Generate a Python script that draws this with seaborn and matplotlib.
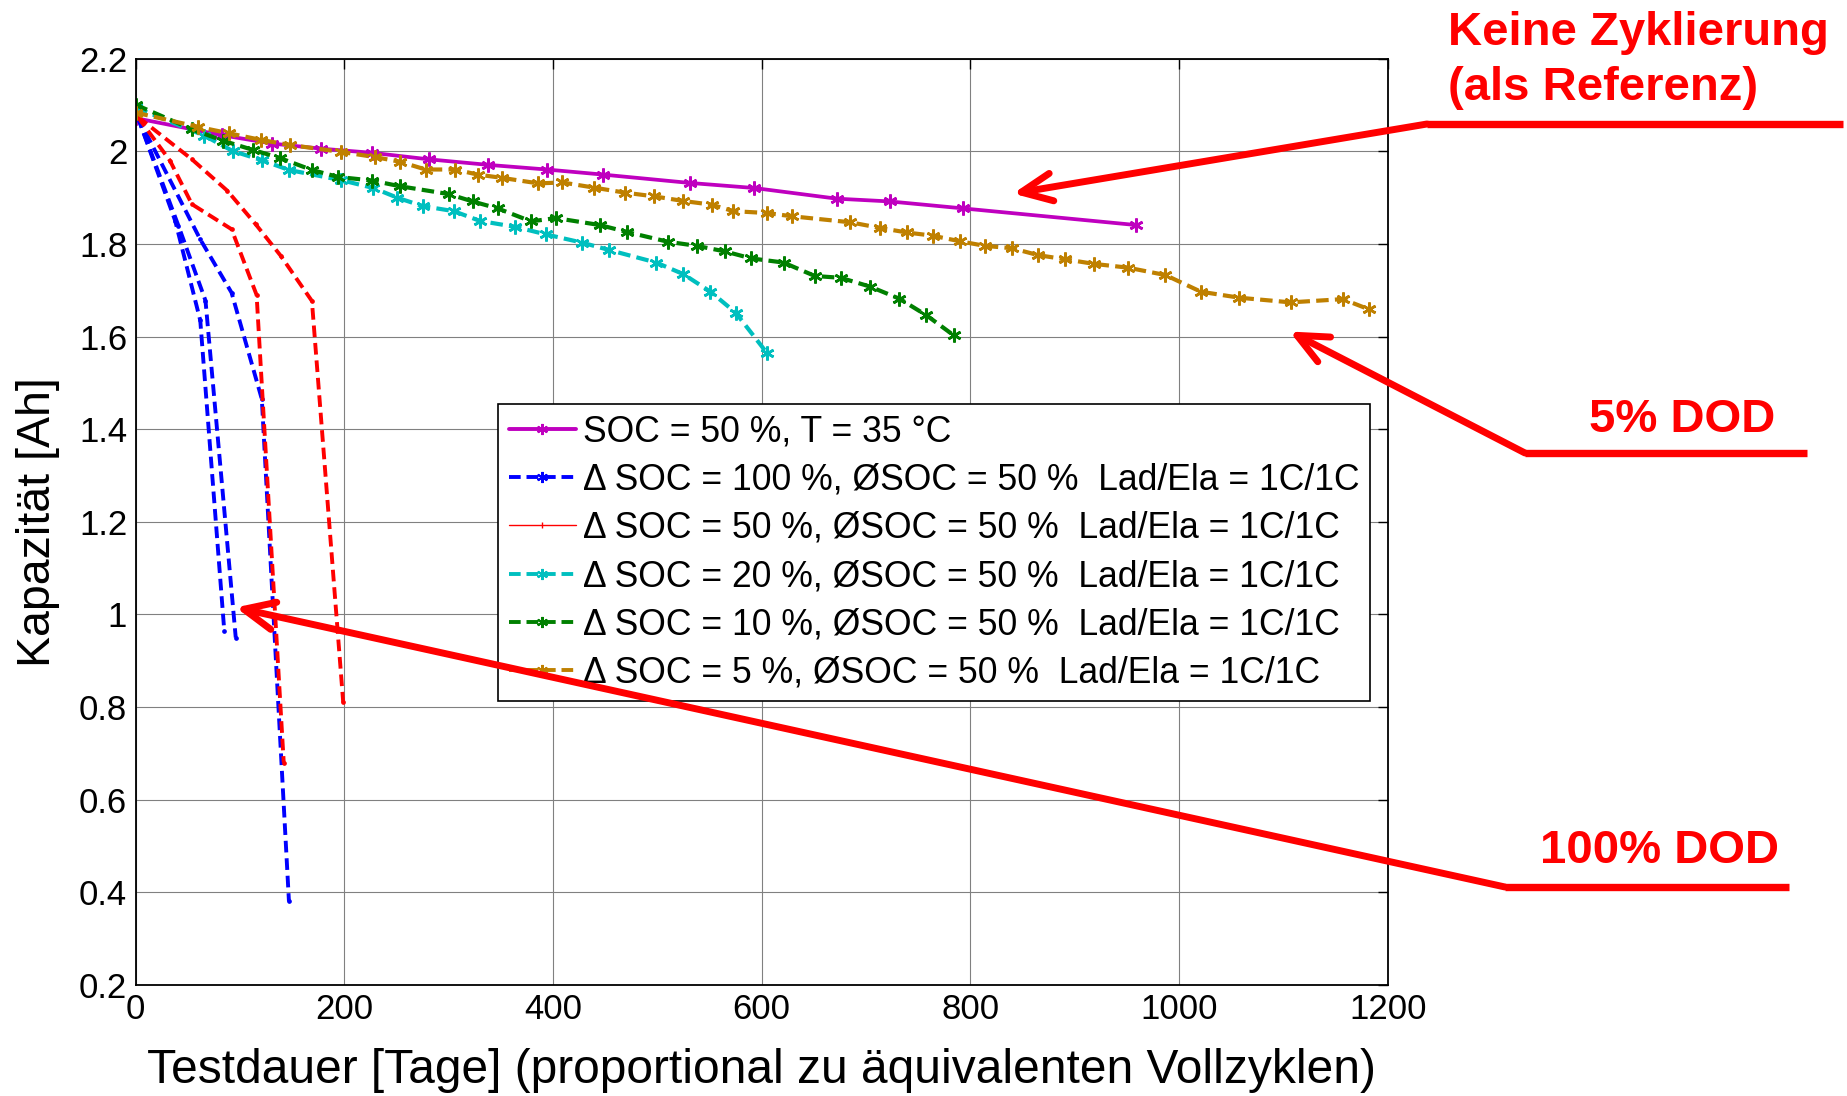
"""
Kapazitätsverlauf bei verschiedenen DOD-Stufen
"""
import matplotlib
matplotlib.use('Agg')
import matplotlib.pyplot as plt
from matplotlib.lines import Line2D
import seaborn as sns


sns.set_style("whitegrid")
plt.rcParams['font.family'] = ['Liberation Sans', 'DejaVu Sans']
plt.rcParams['text.color'] = 'black'
plt.rcParams['axes.labelcolor'] = 'black'

# SOC = 50 %, T = 35 °C (keine Zyklierung)
ref_days = [0, 83, 131, 178, 227, 281, 338, 394, 448, 531, 593, 672, 723, 793, 959]
ref_cap = [2.072, 2.035, 2.017, 2.006, 1.997, 1.983, 1.971, 1.961, 1.950, 1.932,
           1.921, 1.898, 1.892, 1.877, 1.841]

# 100 % DOD (drei Zellen)
dod100_a_days = [2, 38, 62, 85]
dod100_a_cap = [2.075, 1.85, 1.635, 0.965]
dod100_b_days = [2, 41, 67, 96]
dod100_b_cap = [2.075, 1.84, 1.678, 0.95]
dod100_c_days = [2, 62, 92, 121, 147]
dod100_c_cap = [2.075, 1.81, 1.695, 1.465, 0.38]

# 50 % DOD (zwei Zellen)
dod50_a_days = [2, 33, 54, 92, 116, 142]
dod50_a_cap = [2.075, 1.98, 1.886, 1.832, 1.69, 0.68]
dod50_b_days = [2, 54, 88, 115, 139, 169, 199]
dod50_b_cap = [2.075, 1.983, 1.915, 1.843, 1.775, 1.677, 0.81]

# 20 % DOD
dod20_days = [0, 66, 93, 121, 147, 197, 228, 251, 275, 305, 330, 364, 393, 428,
              454, 499, 525, 551, 575, 605]
dod20_cap = [2.095, 2.034, 2.001, 1.981, 1.960, 1.938, 1.921, 1.900, 1.882, 1.871,
             1.850, 1.837, 1.821, 1.803, 1.787, 1.760, 1.735, 1.697, 1.652, 1.565]

# 10 % DOD
dod10_days = [0, 54, 84, 113, 138, 169, 194, 227, 253, 300, 323, 347, 379, 403,
              445, 471, 510, 538, 565, 590, 621, 651, 676, 704, 732, 758, 784]
dod10_cap = [2.101, 2.048, 2.023, 2.003, 1.986, 1.960, 1.945, 1.937, 1.925, 1.908,
             1.892, 1.877, 1.849, 1.856, 1.841, 1.826, 1.805, 1.796, 1.784, 1.769,
             1.760, 1.731, 1.727, 1.708, 1.682, 1.646, 1.603]

# 5 % DOD
dod5_days = [0, 60, 90, 120, 148, 197, 229, 253, 278, 306, 328, 351, 386, 409, 439,
             469, 497, 525, 552, 573, 605, 629, 685, 713, 739, 764, 790, 814, 840,
             865, 891, 919, 951, 987, 1021, 1058, 1107, 1157, 1182]
dod5_cap = [2.084, 2.053, 2.039, 2.025, 2.014, 1.999, 1.988, 1.978, 1.961, 1.961,
            1.950, 1.943, 1.931, 1.933, 1.922, 1.911, 1.903, 1.893, 1.885, 1.871,
            1.867, 1.860, 1.847, 1.835, 1.825, 1.818, 1.806, 1.796, 1.791, 1.776,
            1.767, 1.757, 1.749, 1.733, 1.697, 1.684, 1.674, 1.681, 1.659]

legend_labels = [
    'SOC = 50 %, T = 35 °C',
    '\u0394 SOC = 100 %, \u00d8SOC = 50 %  Lad/Ela = 1C/1C',
    '\u0394 SOC = 50 %, \u00d8SOC = 50 %  Lad/Ela = 1C/1C',
    '\u0394 SOC = 20 %, \u00d8SOC = 50 %  Lad/Ela = 1C/1C',
    '\u0394 SOC = 10 %, \u00d8SOC = 50 %  Lad/Ela = 1C/1C',
    '\u0394 SOC = 5 %, \u00d8SOC = 50 %  Lad/Ela = 1C/1C',
]

PURPLE = '#BF00BF'
BLUE = '#0000FF'
RED = '#FF0000'
CYAN = '#00BFBF'
GREEN = '#008000'
GOLD = '#BF8000'

ASTERISK = (6, 2, 0)
DASH = (0, (3.0, 1.5))

W, H = 1847, 1096


def fx(px):
    return px / W


def fy(py):
    return 1 - py / H


fig = plt.figure(figsize=(W / 100, H / 100), dpi=100)
ax = fig.add_axes([0.0734, 0.1015, 0.6779, 0.8448])


def draw(days, cap, color, ls, marker, ms, lw):
    sns.lineplot(x=days, y=cap, ax=ax, color=color, linestyle=ls, linewidth=lw,
                 marker=marker, markersize=ms, markeredgecolor=color,
                 markeredgewidth=1.9, sort=False, estimator=None, legend=False)


draw(ref_days, ref_cap, PURPLE, '-', ASTERISK, 10, 2.7)
for d, c in [(dod100_a_days, dod100_a_cap), (dod100_b_days, dod100_b_cap),
             (dod100_c_days, dod100_c_cap)]:
    draw(d, c, BLUE, DASH, '.', 3, 2.8)
for d, c in [(dod50_a_days, dod50_a_cap), (dod50_b_days, dod50_b_cap)]:
    draw(d, c, RED, DASH, '.', 3, 2.8)
draw(dod20_days, dod20_cap, CYAN, DASH, ASTERISK, 10, 3.0)
draw(dod10_days, dod10_cap, GREEN, DASH, ASTERISK, 10, 3.0)
draw(dod5_days, dod5_cap, GOLD, DASH, ASTERISK, 10, 3.0)

ax.set_xlim(0, 1200)
ax.set_ylim(0.2, 2.2)
ax.set_xticks(range(0, 1201, 200))
ax.set_yticks([0.2, 0.4, 0.6, 0.8, 1, 1.2, 1.4, 1.6, 1.8, 2, 2.2])
ax.set_yticklabels(['0.2', '0.4', '0.6', '0.8', '1', '1.2', '1.4', '1.6', '1.8', '2', '2.2'])
ax.grid(True, color='0.5', linewidth=0.8, linestyle='-')
ax.set_facecolor('white')
for s in ax.spines.values():
    s.set_color('black')
    s.set_linewidth(1.3)
ax.tick_params(direction='in', length=7, width=1, top=True, right=True,
               labelsize=25, colors='black', pad=6)
ax.set_xlabel('Testdauer [Tage] (proportional zu äquivalenten Vollzyklen)',
              fontsize=34.5, labelpad=16, color='black')
ax.set_ylabel('Kapazität [Ah]', fontsize=33.5, labelpad=14, color='black')

handles = [
    Line2D([], [], color=PURPLE, lw=2.8, marker=ASTERISK, ms=8, mew=1.5),
    Line2D([], [], color=BLUE, lw=2.8, ls=DASH, marker=ASTERISK, ms=8, mew=1.5),
    Line2D([], [], color=RED, lw=1.0, marker='|', ms=5),
    Line2D([], [], color=CYAN, lw=2.8, ls=DASH, marker=ASTERISK, ms=8, mew=1.5),
    Line2D([], [], color=GREEN, lw=2.8, ls=DASH, marker=ASTERISK, ms=8, mew=1.5),
    Line2D([], [], color=GOLD, lw=2.8, ls=DASH, marker=ASTERISK, ms=8, mew=1.5),
]
leg = ax.legend(handles=handles, labels=legend_labels, loc='upper left',
                bbox_to_anchor=(0.2895, 0.6273), borderaxespad=0, fontsize=25.6,
                frameon=True, fancybox=False, framealpha=1, edgecolor='black',
                handlelength=1.9, handletextpad=0.18, labelspacing=0.37,
                borderpad=0.3)
leg.get_frame().set_linewidth(1.2)
for t in leg.get_texts():
    t.set_color('black')

# Annotationen (rote Pfeile)
arrow_kw = dict(arrowstyle='->,head_length=2.2,head_width=1.0', color=RED, lw=5,
                shrinkA=0, shrinkB=0, mutation_scale=10)
notes = [
    ((841, 1.909), (1427, 124), 1843),
    ((1106, 1.611), (1525, 453), 1807),
    ((96, 1.015), (1505, 887), 1789),
]
for tip, start, end_x in notes:
    ax.annotate('', xy=tip, xycoords='data', xytext=(fx(start[0]), fy(start[1])),
                textcoords='figure fraction', arrowprops=arrow_kw,
                annotation_clip=False, zorder=10)
    fig.add_artist(Line2D([fx(start[0]), fx(end_x)], [fy(start[1]), fy(start[1])],
                          transform=fig.transFigure, color=RED, lw=5.3,
                          solid_capstyle='butt'))

txt_kw = dict(color=RED, fontsize=34, fontweight='bold', ha='left', va='baseline')
fig.text(fx(1448), fy(45), 'Keine Zyklierung', **txt_kw)
fig.text(fx(1448), fy(100), '(als Referenz)', **txt_kw)
fig.text(fx(1589), fy(432), '5% DOD', **txt_kw)
fig.text(fx(1540), fy(863), '100% DOD', **txt_kw)

fig.savefig('out.png', dpi=100)
